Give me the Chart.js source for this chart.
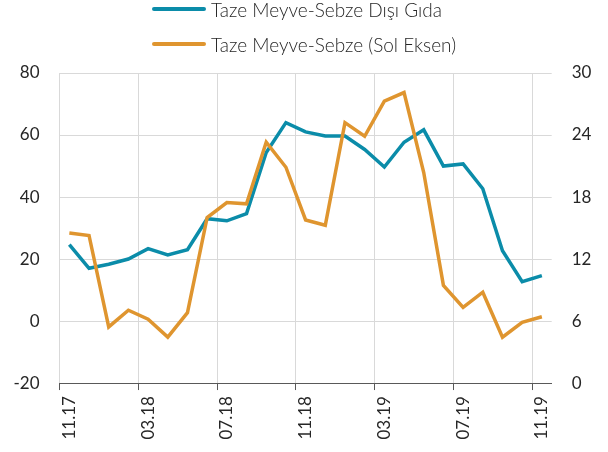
<!DOCTYPE html>
<html>
<head>
<meta charset="utf-8">
<script src="https://cdn.jsdelivr.net/npm/chart.js@4"></script>
<style>
  html, body { margin: 0; padding: 0; background: #fff; }
  #wrap { position: relative; width: 608px; height: 452px; }
  #legend { position: absolute; left: 152px; top: -1px; font-family: Lato, sans-serif; font-weight: 300; font-size: 19px; color: #262626; }
  .item { position: absolute; left: 0; white-space: nowrap; display: flex; align-items: center; height: 20px; }
  .swatch { width: 54px; height: 4px; border-radius: 2px; margin-right: 5px; }
</style>
</head>
<body>
<div id="wrap">
  <canvas id="chart"></canvas>
  <div id="legend"></div>
</div>
<script>
const months = [
  "11.17", "12.17", "01.18", "02.18", "03.18", "04.18", "05.18", "06.18", "07.18",
  "08.18", "09.18", "10.18", "11.18", "12.18", "01.19", "02.19", "03.19", "04.19",
  "05.19", "06.19", "07.19", "08.19", "09.19", "10.19", "11.19",
];

// right axis
const disiGida = [
  13.4, 11.1, 11.5, 12.0, 13.0, 12.4, 12.9, 15.9, 15.7, 16.4, 22.3, 25.2, 24.3,
  23.9, 23.9, 22.6, 20.9, 23.3, 24.5, 21.0, 21.2, 18.8, 12.8, 9.8, 10.4,
];

// left axis
const tazeMeyveSebze = [
  28.4, 27.6, -1.9, 3.5, 0.6, -5.2, 2.7, 33.4, 38.2, 37.8, 57.7, 49.6, 32.6,
  30.9, 64.0, 59.6, 70.9, 73.7, 47.9, 11.5, 4.4, 9.3, -5.2, -0.4, 1.4,
];

const leftTicks = [-20, 0, 20, 40, 60, 80];
const rightTicks = [0, 6, 12, 18, 24, 30];

const BLUE = "#0b8ca9";
const ORANGE = "#df952f";
const GRID = "#d9d9d9";
const AXIS = "#595959";
const FONT = { family: "Lato, sans-serif", size: 17 };

const htmlLegend = {
  id: "htmlLegend",
  afterUpdate(chart) {
    const box = document.getElementById("legend");
    box.innerHTML = "";
    chart.data.datasets.forEach((ds, i) => {
      const row = document.createElement("div");
      row.className = "item";
      row.style.top = i * 35 + "px";
      const sw = document.createElement("span");
      sw.className = "swatch";
      sw.style.background = ds.borderColor;
      const txt = document.createElement("span");
      txt.textContent = ds.label;
      row.appendChild(sw);
      row.appendChild(txt);
      box.appendChild(row);
    });
  },
};

const everyFourth = (ctx, on, off) => (ctx.index % 4 === 0 ? on : off);

new Chart(document.getElementById("chart"), {
  type: "line",
  data: {
    labels: months,
    datasets: [
      {
        label: "Taze Meyve-Sebze Dışı Gıda",
        data: disiGida,
        yAxisID: "y1",
        borderColor: BLUE,
        borderWidth: 3.5,
        pointRadius: 0,
        order: 2,
      },
      {
        label: "Taze Meyve-Sebze (Sol Eksen)",
        data: tazeMeyveSebze,
        yAxisID: "y",
        borderColor: ORANGE,
        borderWidth: 3.5,
        pointRadius: 0,
        order: 1,
      },
    ],
  },
  options: {
    responsive: true,
    maintainAspectRatio: false,
    animation: false,
    layout: { padding: { top: 73, bottom: 6.5 } },
    plugins: {
      legend: { display: false },
      tooltip: { enabled: false },
    },
    scales: {
      x: {
        offset: true,
        grid: {
          offset: true,
          color: (ctx) => everyFourth(ctx, GRID, "transparent"),
          tickColor: (ctx) => everyFourth(ctx, AXIS, "transparent"),
          tickLength: 7,
        },
        border: { color: AXIS },
        ticks: {
          autoSkip: false,
          maxRotation: 90,
          minRotation: 90,
          padding: 6,
          color: "#262626",
          font: FONT,
          callback: (v, i) => (i % 4 === 0 ? months[i] : ""),
        },
      },
      y: {
        position: "left",
        min: leftTicks[0],
        max: leftTicks[leftTicks.length - 1],
        afterBuildTicks: (s) => { s.ticks = leftTicks.map((v) => ({ value: v })); },
        afterFit: (s) => { s.width = 59.5; },
        grid: { color: GRID, drawTicks: false },
        border: { display: false },
        ticks: { padding: 20, color: "#262626", font: FONT },
      },
      y1: {
        position: "right",
        min: rightTicks[0],
        max: rightTicks[rightTicks.length - 1],
        afterBuildTicks: (s) => { s.ticks = rightTicks.map((v) => ({ value: v })); },
        afterFit: (s) => { s.width = 56.3; },
        grid: { display: false, drawTicks: false },
        border: { display: false },
        ticks: { padding: 20, color: "#262626", font: FONT },
      },
    },
  },
  plugins: [htmlLegend],
});
</script>
</body>
</html>
